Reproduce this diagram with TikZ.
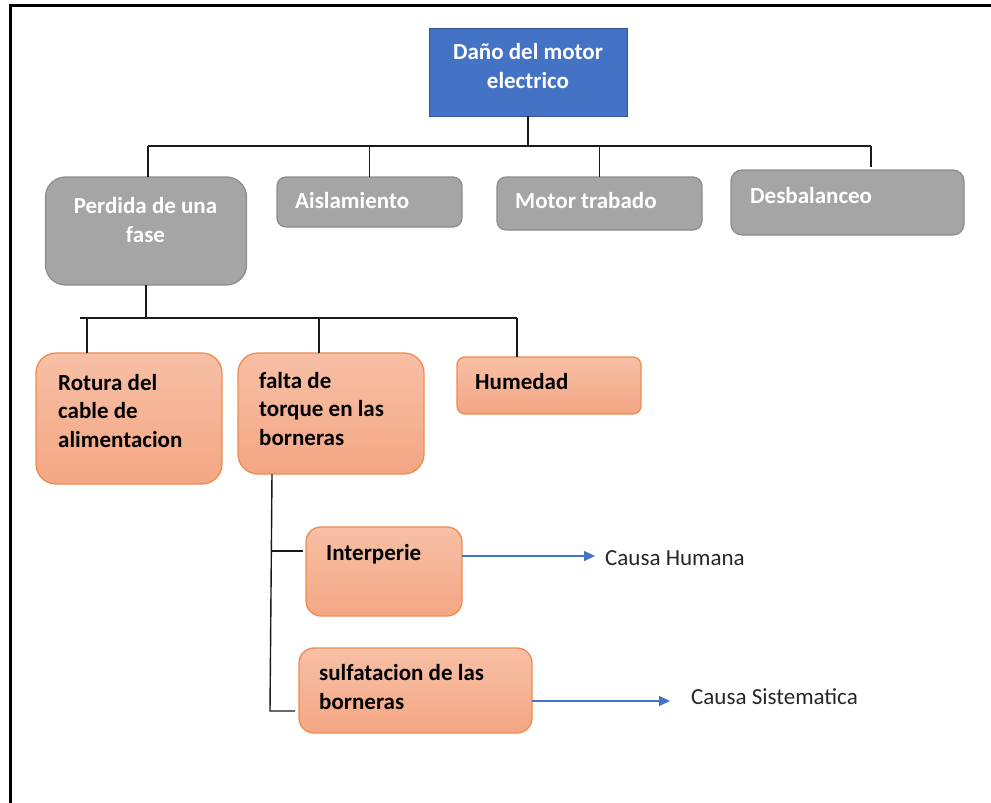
\documentclass[tikz,border=0pt]{standalone}
\usepackage{fontspec}
\setmainfont{Carlito}
\usetikzlibrary{arrows.meta}

\definecolor{boxblue}{RGB}{68,114,196}
\definecolor{boxblueline}{RGB}{47,85,151}
\definecolor{boxgray}{RGB}{165,165,165}
\definecolor{boxgrayline}{RGB}{140,140,140}
\definecolor{orangetop}{RGB}{247,192,166}
\definecolor{orangebot}{RGB}{244,166,131}
\definecolor{orangeline}{RGB}{238,140,80}

\begin{document}
\begin{tikzpicture}[x=1pt,y=-1pt,
  box/.style={anchor=north west,inner sep=0pt,outer sep=0pt},
  bluebox/.style={box,draw=boxblueline,fill=boxblue,line width=1pt},
  graybox/.style={box,draw=boxgrayline,fill=boxgray,line width=1.2pt},
  orangebox/.style={box,draw=orangeline,line width=1.3pt,top color=orangetop,bottom color=orangebot},
  boxtext/.style={inner sep=0pt,anchor=base west,align=left,
    font=\bfseries\fontsize{23}{28.5}\selectfont},
  whitetext/.style={boxtext,text=white},
  plaintext/.style={inner sep=0pt,anchor=base west,font=\fontsize{23}{28.5}\selectfont,text=black!85},
  link/.style={draw=black!90,line width=1.4pt},
  causearrow/.style={draw=boxblue,line width=1.5pt,-{Triangle[length=11pt,width=10pt]}}]

\useasboundingbox (0,0) rectangle (991,803);

% frame around the chart
\draw[line width=2.2pt] (10.5,810) -- (10.5,5.5) -- (1000,5.5);

% main problem (multi-line texts are placed by the baseline of their last line)
\node[bluebox,minimum width=198pt,minimum height=88pt] (top) at (429,28) {};
\node[whitetext,anchor=base,align=center] (top-t) at (528,88) {Daño del motor\\electrico};

% first level causes
\node[graybox,rounded corners=20pt,minimum width=201pt,minimum height=108pt] (perdida) at (45.5,177) {};
\node[whitetext,anchor=base,align=center] (perdida-t) at (145.5,242) {Perdida de una\\fase};
\node[graybox,rounded corners=9pt,minimum width=185pt,minimum height=50pt] (aisl) at (277,177) {};
\node[whitetext] (aisl-t) at (295,208) {Aislamiento};
\node[graybox,rounded corners=9pt,minimum width=205pt,minimum height=53pt] (motor) at (497,177) {};
\node[whitetext] (motor-t) at (515,208) {Motor trabado};
\node[graybox,rounded corners=11pt,minimum width=233pt,minimum height=65pt] (desb) at (731,170) {};
\node[whitetext] (desb-t) at (750,203) {Desbalanceo};

% second level causes
\node[orangebox,rounded corners=20pt,minimum width=186pt,minimum height=131pt] (rotura) at (36,353) {};
\node[boxtext] (rotura-t) at (58,447) {Rotura del\\cable de\\alimentacion};
\node[orangebox,rounded corners=20pt,minimum width=186pt,minimum height=121pt] (falta) at (238,353) {};
\node[boxtext] (falta-t) at (259,445) {falta de\\torque en las\\borneras};
\node[orangebox,rounded corners=8pt,minimum width=184pt,minimum height=57pt] (humedad) at (457,357) {};
\node[boxtext] (humedad-t) at (475,389) {Humedad};

% third level causes
\node[orangebox,rounded corners=15pt,minimum width=156pt,minimum height=89pt] (interp) at (306,527) {};
\node[boxtext] (interp-t) at (326,560) {Interperie};
\node[orangebox,rounded corners=15pt,minimum width=233pt,minimum height=85pt] (sulf) at (299,648) {};
\node[boxtext] (sulf-t) at (319,709) {sulfatacion de las\\borneras};

% classification of the root causes
\node[plaintext] (humana) at (605,565) {Causa Humana};
\node[plaintext] (sistem) at (691,704) {Causa Sistematica};

% tree connectors, first level
\coordinate (j1) at (148,146);
\coordinate (j4) at (871,146);
\draw[link] (j1) -- (j4);
\draw[link] (top.south) -- (top.south |- j1);
\draw[link] (j1) -- (j1 |- perdida.north);
\draw[link] (aisl.north |- j1) -- (aisl.north);
\draw[link] (motor.north |- j1) -- (motor.north);
\draw[link] (j4) -- ([yshift=3pt]j4 |- desb.north);

% tree connectors, second level
\coordinate (k0) at (80,318);
\coordinate (k1) at (87,318);
\coordinate (k2) at (319,318);
\coordinate (k3) at (517,318);
\draw[link] (k0) -- (k3);
\draw[link] (perdida.south) -- (perdida.south |- k0);
\draw[link] (k1) -- (k1 |- rotura.north);
\draw[link] (k2) -- (k2 |- falta.north);
\draw[link] (k3) -- (k3 |- humedad.north);

% tree connectors, third level
\coordinate (v0) at (272,0);
\coordinate (v1) at (272,551);
\coordinate (v2) at (270,711);
\draw[link] (falta.south -| v0) -- (v2) -- ([xshift=-4pt]sulf.west |- v2);
\draw[link] (v1) -- ([xshift=-3pt]interp.west |- v1);

% arrows to the cause type
\coordinate (a1) at (595,556);
\coordinate (a2) at (670,701);
\draw[causearrow] (interp.east |- a1) -- (a1);
\draw[causearrow] (sulf.east |- a2) -- (a2);

\end{tikzpicture}
\end{document}
